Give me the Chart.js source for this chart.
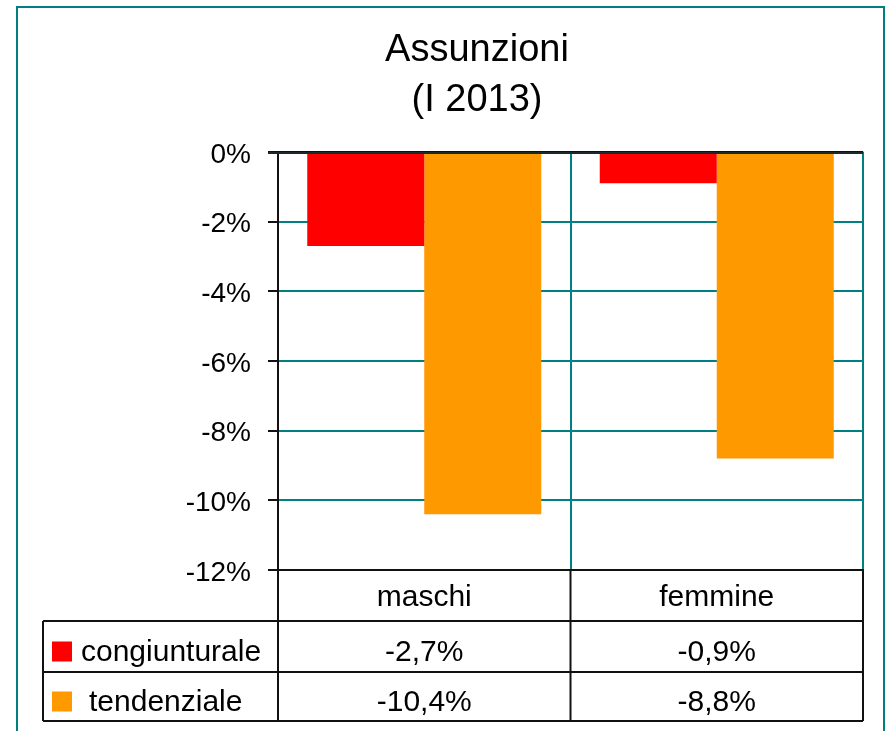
<!DOCTYPE html>
<html lang="it">
<head>
    <meta charset="UTF-8">
    <title>Assunzioni (I 2013)</title>
    <script src="https://cdn.jsdelivr.net/npm/chart.js"></script>
    <style>
        body { margin: 0; background: #fff; }
        canvas { display: block; }
    </style>
</head>
<body>
    <canvas id="assunzioniChart" width="885" height="731"></canvas>
    <script>
        // Dati
        const categorie = ['maschi', 'femmine'];
        const serie = ['congiunturale', 'tendenziale'];
        const congiunturale = [-2.7, -0.9];
        const tendenziale = [-10.4, -8.8];
        const colori = ['#ff0000', '#ff9900'];
        const yMin = -12, yMax = 0, yStep = 2;

        const FONT = "'Liberation Sans', Arial, sans-serif";
        const TEAL = '#008080';

        const fmt = v => v.toFixed(1).replace('.', ',') + '%';

        // Cornice esterna + tabella dati sotto il grafico
        const tabella = {
            id: 'tabella',
            beforeDraw(chart) {
                const ctx = chart.ctx;
                ctx.save();
                ctx.strokeStyle = TEAL;
                ctx.lineWidth = 2;
                ctx.strokeRect(17, 7, 867, 740);
                ctx.restore();
            },
            afterDatasetsDraw(chart) {
                // linea dello zero sopra le barre
                const ctx = chart.ctx;
                const area = chart.chartArea;
                const y0 = Math.round(chart.scales.y.getPixelForValue(0));
                ctx.save();
                ctx.strokeStyle = '#1a2a2a';
                ctx.lineWidth = 2;
                ctx.beginPath();
                ctx.moveTo(area.left - 10, y0 + 1);
                ctx.lineTo(area.right, y0 + 1);
                ctx.stroke();
                ctx.restore();
            },
            afterDraw(chart) {
                const ctx = chart.ctx;
                const area = chart.chartArea;
                const xs = chart.scales.x;
                const mid = (xs.getPixelForValue(0) + xs.getPixelForValue(1)) / 2;
                const top = area.bottom;
                const r1 = top + 51, r2 = top + 102, r3 = top + 151;
                const tabLeft = 43;

                ctx.save();
                ctx.strokeStyle = '#111';
                ctx.lineWidth = 2;
                ctx.beginPath();
                // verticali
                [area.left, mid, area.right].forEach(x => {
                    ctx.moveTo(x, top); ctx.lineTo(x, r3);
                });
                ctx.moveTo(tabLeft, r1); ctx.lineTo(tabLeft, r3);
                // orizzontali
                [r1, r2, r3].forEach(y => {
                    ctx.moveTo(tabLeft, y); ctx.lineTo(area.right, y);
                });
                ctx.stroke();

                // righe della legenda con valori
                const righe = [congiunturale, tendenziale];
                const centri = [(r1 + r2) / 2 + 6, (r2 + r3) / 2 + 6];
                ctx.font = '30px ' + FONT;
                ctx.fillStyle = '#000';
                ctx.textBaseline = 'middle';
                righe.forEach((valori, i) => {
                    const y = centri[i];
                    ctx.fillStyle = colori[i];
                    ctx.fillRect(52, y - 11, 20, 20);
                    ctx.fillStyle = '#000';
                    ctx.textAlign = 'left';
                    ctx.fillText(serie[i], i === 0 ? 81 : 89, y);
                    ctx.textAlign = 'center';
                    valori.forEach((v, j) => {
                        ctx.fillText(fmt(v), xs.getPixelForValue(j), y);
                    });
                });
                ctx.restore();
            }
        };

        Chart.defaults.font.family = FONT;
        Chart.defaults.color = '#000';

        new Chart(document.getElementById('assunzioniChart'), {
            type: 'bar',
            data: {
                labels: categorie,
                datasets: [
                    { label: serie[0], data: congiunturale, backgroundColor: colori[0] },
                    { label: serie[1], data: tendenziale, backgroundColor: colori[1] }
                ]
            },
            options: {
                responsive: false,
                animation: false,
                categoryPercentage: 0.8,
                barPercentage: 1.0,
                layout: { padding: { left: 91, right: 22, top: 0, bottom: 0 } },
                plugins: {
                    legend: { display: false },
                    tooltip: { enabled: false },
                    title: {
                        display: true,
                        text: ['Assunzioni', '(I 2013)'],
                        color: '#000',
                        font: { size: 38, weight: 'normal', lineHeight: 1.3 },
                        padding: { top: 26, bottom: 27 }
                    }
                },
                scales: {
                    x: {
                        afterFit(scale) { scale.height = 161; },
                        grid: { offset: true, color: TEAL, lineWidth: 2, drawTicks: false },
                        border: { color: '#111', width: 2 },
                        ticks: { font: { size: 30 }, color: '#000', padding: 10 }
                    },
                    y: {
                        min: yMin,
                        max: yMax,
                        afterFit(scale) { scale.width = 187; },
                        grid: {
                            color: c => (c.tick && c.tick.value === 0) ? '#111' : TEAL,
                            tickColor: '#111',
                            lineWidth: 2,
                            tickLength: 10
                        },
                        border: { color: '#111', width: 2 },
                        ticks: {
                            stepSize: yStep,
                            font: { size: 28 },
                            color: '#000',
                            padding: 17,
                            labelOffset: 3,
                            callback: v => v + '%'
                        }
                    }
                }
            },
            plugins: [tabella]
        });
    </script>
</body>
</html>
